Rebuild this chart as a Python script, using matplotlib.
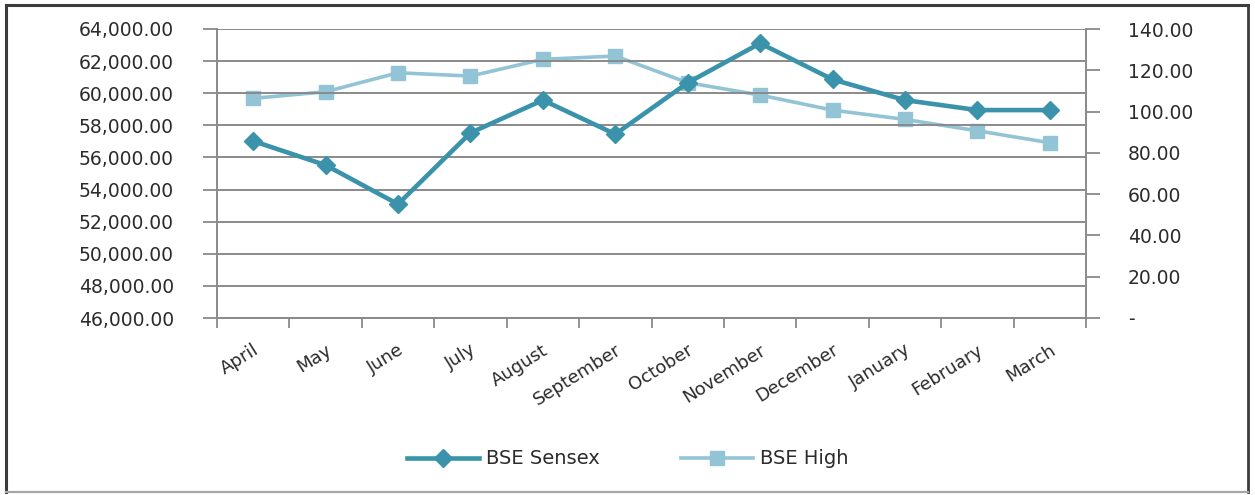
import matplotlib
matplotlib.use("Agg")
import matplotlib.pyplot as plt
from matplotlib.ticker import FuncFormatter, FixedLocator
from matplotlib.lines import Line2D
import matplotlib.transforms as mtransforms

months = ["April", "May", "June", "July", "August", "September", "October",
          "November", "December", "January", "February", "March"]
sensex = [57020, 55520, 53090, 57530, 59570, 57450, 60650, 63110, 60860, 59570, 58950, 58950]
bse_high = [106.4, 109.6, 118.8, 117.2, 125.3, 126.9, 114.0, 108.0, 100.7, 96.2, 90.7, 84.9]
left_ticks = list(range(46000, 64001, 2000))
right_ticks = list(range(0, 141, 20))

c_sensex = "#3a93ab"
c_high = "#92c4d5"
c_grid = "#8a8a8a"
c_axis = "#8a8a8a"
txt = "#2b2b2b"

W, H = 1255, 495
fig = plt.figure(figsize=(W / 100, H / 100), dpi=100)
fig.patch.set_facecolor("white")

ax = fig.add_axes([217 / W, 1 - 318 / H, (1086 - 217) / W, (318 - 29) / H])
ax2 = ax.twinx()

ax.set_xlim(-0.5, len(months) - 0.5)
ax.set_ylim(46000, 64000)
ax2.set_ylim(0, 140)

x = list(range(len(months)))
ax.plot(x, sensex, color=c_sensex, lw=3.3, marker="D", ms=9, zorder=5,
        solid_joinstyle="miter")
ax2.plot(x, bse_high, color=c_high, lw=2.6, marker="s", ms=10.5, zorder=4)
ax.set_zorder(ax2.get_zorder() + 1)
ax.patch.set_visible(False)

# grid
ax.set_yticks(left_ticks)
ax.yaxis.grid(True, color=c_grid, lw=1.4)
ax.set_axisbelow(True)
ax.yaxis.set_major_formatter(FuncFormatter(lambda v, p: f"{v:,.2f}"))
ax.tick_params(axis="y", length=10, width=1.3, color=c_axis, pad=21,
               labelsize=13.5, labelcolor=txt)

ax2.set_yticks(right_ticks)
ax2.yaxis.set_major_formatter(FuncFormatter(lambda v, p: "-" if v == 0 else f"{v:.2f}"))
ax2.tick_params(axis="y", length=10, width=1.3, color=c_axis, pad=20,
                labelsize=13.5, labelcolor=txt)

# x axis
ax.set_xticks(x)
ax.set_xticklabels(months)
ax.xaxis.set_minor_locator(FixedLocator([i - 0.5 for i in range(len(months) + 1)]))
ax.tick_params(axis="x", which="major", length=0, pad=22, labelsize=13, labelcolor=txt)
ax.tick_params(axis="x", which="minor", length=7, width=1.3, color=c_axis)
offset = mtransforms.ScaledTranslation(4 / 100, 0, fig.dpi_scale_trans)
for lab in ax.get_xticklabels():
    lab.set_rotation(32)
    lab.set_ha("right")
    lab.set_va("center")
    lab.set_rotation_mode("anchor")
    lab.set_transform(lab.get_transform() + offset)

for a in (ax, ax2):
    a.spines["top"].set_visible(False)
    for s in ("left", "right", "bottom"):
        a.spines[s].set_color(c_axis)
        a.spines[s].set_linewidth(1.4)
ax2.spines["left"].set_visible(False)
ax2.spines["bottom"].set_visible(False)
ax.spines["right"].set_visible(False)

# legend
handles = [
    Line2D([], [], color=c_sensex, lw=3.3, marker="D", ms=9),
    Line2D([], [], color=c_high, lw=2.6, marker="s", ms=10.5),
]
fig.legend(handles, ["BSE Sensex", "BSE High"], loc="center",
           bbox_to_anchor=(628 / W, 1 - 459 / H), ncol=2, frameon=False,
           fontsize=14, handlelength=3.7, handletextpad=0.35, columnspacing=4.2,
           labelcolor=txt)

# outer border
dark = "#3c3c3c"
fig.add_artist(Line2D([6 / W, 6 / W], [1 - 5 / H, 1 - 492 / H], color=dark, lw=2.2, transform=fig.transFigure))
fig.add_artist(Line2D([6 / W, 1248 / W], [1 - 5 / H, 1 - 5 / H], color=dark, lw=2.2, transform=fig.transFigure))
fig.add_artist(Line2D([1248 / W, 1248 / W], [1 - 5 / H, 1 - 492 / H], color=dark, lw=2.0, transform=fig.transFigure))
fig.add_artist(Line2D([6 / W, 1248 / W], [1 - 492 / H, 1 - 492 / H], color="#a6a6a6", lw=1.6, transform=fig.transFigure))

fig.savefig("out.png", dpi=100, facecolor="white")
